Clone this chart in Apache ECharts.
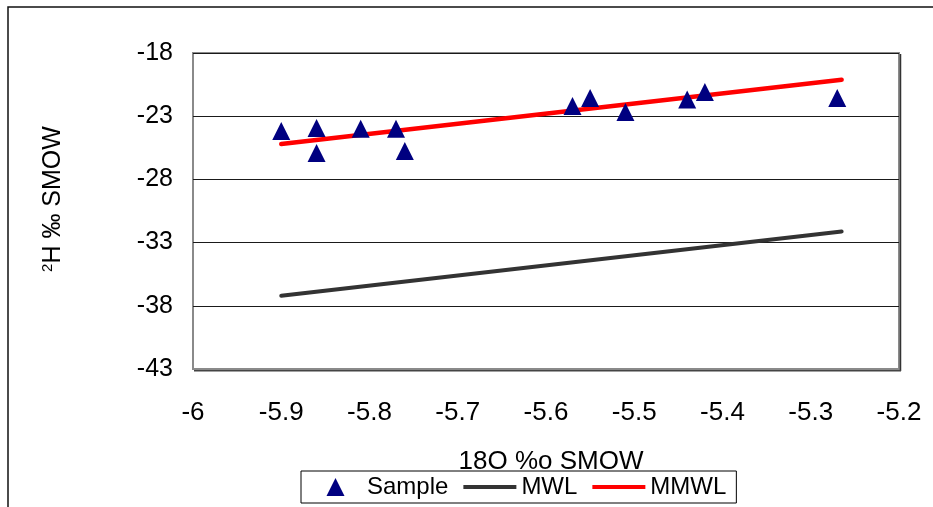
<!DOCTYPE html>
<html>
<head>
<meta charset="utf-8">
<script src="https://cdn.jsdelivr.net/npm/echarts@6/dist/echarts.min.js"></script>
<style>
  html, body { margin: 0; padding: 0; background: #fff; }
  #chart { width: 933px; height: 507px; }
</style>
</head>
<body>
<div id="chart"></div>
<script>
// Sample points (δ18O, δ2H)
var sampleX = [-5.90, -5.86, -5.86, -5.81, -5.77, -5.76, -5.57, -5.55, -5.51, -5.44, -5.42, -5.27];
var sampleY = [-24.17, -23.93, -25.91, -24.0, -24.0, -25.75, -22.19, -21.56, -22.67, -21.68, -21.09, -21.56];
// Line end points
var mwlX = [-5.90, -5.265];
var mwlY = [-37.2, -32.12];
var mmwlX = [-5.90, -5.265];
var mmwlY = [-25.2, -20.12];
// Axis ticks
var xMin = -6, xMax = -5.2, xStep = 0.1;
var yMin = -43, yMax = -18, yStep = 5;

function pairs(xs, ys) { return xs.map(function (x, i) { return [x, ys[i]]; }); }

// Legend key shapes (bounding box 53x18 so they are not stretched)
var ICON_TRIANGLE = 'path://M0,0L0,0M53,18L53,18M26.5,0L35.5,18L17.5,18Z';
var ICON_LINE = 'path://M0,0L0,0M53,18L53,18M0,7L53,7L53,11L0,11Z';

var FONT = '"Liberation Sans", Arial, sans-serif';
var chart = echarts.init(document.getElementById('chart'), null, { renderer: 'canvas' });
chart.setOption({
  backgroundColor: '#fff',
  animation: false,
  textStyle: { fontFamily: FONT, color: '#000' },
  grid: {
    left: 193, right: 34, top: 53, bottom: 138,
    show: true, borderColor: '#8a8a8a', borderWidth: 2, backgroundColor: 'transparent'
  },
  xAxis: {
    type: 'value', min: xMin, max: xMax, interval: xStep,
    axisLine: { show: false }, axisTick: { show: false }, splitLine: { show: false },
    axisLabel: {
      margin: 31, fontSize: 26, color: '#000', fontFamily: FONT,
      formatter: function (v) { return String(parseFloat(v.toFixed(1))); }
    },
    name: '18O %o SMOW', nameLocation: 'middle', nameGap: 80,
    nameTextStyle: { fontSize: 26, color: '#000', fontFamily: FONT, padding: [0, 0, 0, 10] }
  },
  yAxis: {
    type: 'value', min: yMin, max: yMax, interval: yStep,
    axisLine: { show: false }, axisTick: { show: false },
    splitLine: { show: true, showMinLine: false, lineStyle: { color: '#1a1a1a', width: 1 } },
    axisLabel: { margin: 20, fontSize: 25, color: '#000', fontFamily: FONT },
    name: '{sup|2}{a|H ‰ SMOW}', nameLocation: 'middle', nameRotate: 90, nameGap: 126,
    nameTextStyle: {
      color: '#000', fontFamily: FONT, padding: [0, 0, 0, 24],
      rich: {
        a: { fontSize: 25, fontFamily: FONT, color: '#000' },
        sup: { fontSize: 15, fontFamily: FONT, color: '#000', padding: [0, 0, 12, 0] }
      }
    }
  },
  legend: {
    left: 301, top: 471,
    data: [
      { name: 'Sample', icon: ICON_TRIANGLE },
      { name: 'MWL', icon: ICON_LINE },
      { name: 'MMWL', icon: ICON_LINE }
    ],
    itemWidth: 53, itemHeight: 18, itemGap: 15,
    borderColor: '#000', borderWidth: 1, padding: [4, 10, 4, 8],
    itemStyle: { borderWidth: 0 },
    textStyle: { fontSize: 24, color: '#000', fontFamily: FONT }
  },
  graphic: [
    { type: 'rect', shape: { x: 8, y: 7, width: 1000, height: 600 }, style: { fill: 'none', stroke: '#111', lineWidth: 1.5 }, silent: true },
    { type: 'line', shape: { x1: 900.5, y1: 54, x2: 900.5, y2: 371 }, style: { stroke: '#333', lineWidth: 1.5 }, silent: true },
    { type: 'line', shape: { x1: 194, y1: 370.8, x2: 901, y2: 370.8 }, style: { stroke: '#444', lineWidth: 1.5 }, silent: true }
  ],
  series: [
    {
      name: 'MWL', type: 'line', data: pairs(mwlX, mwlY), showSymbol: false, symbol: 'none',
      lineStyle: { color: '#333333', width: 4, cap: 'round' }, itemStyle: { color: '#333333' }, z: 2
    },
    {
      name: 'MMWL', type: 'line', data: pairs(mmwlX, mmwlY), showSymbol: false, symbol: 'none',
      lineStyle: { color: '#ff0000', width: 4.5, cap: 'round' }, itemStyle: { color: '#ff0000' }, z: 2
    },
    {
      name: 'Sample', type: 'scatter', data: pairs(sampleX, sampleY),
      symbol: 'triangle', symbolSize: [18, 18],
      itemStyle: { color: '#000080', opacity: 1 }, z: 4
    }
  ]
});
</script>
</body>
</html>
